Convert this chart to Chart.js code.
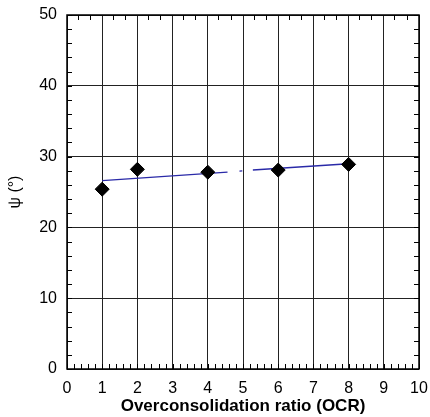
<!DOCTYPE html>
<html>
<head>
<meta charset="utf-8">
<script src="https://cdn.jsdelivr.net/npm/chart.js@4"></script>
<style>
  html, body { margin: 0; padding: 0; background: #fff; }
  #wrap { width: 430px; height: 417px; }
</style>
</head>
<body>
<div id="wrap"><canvas id="chart"></canvas></div>
<script>
// measured values
const ocr = [1, 2, 4, 6, 8];
const psi = [25.4, 28.2, 27.8, 28.1, 28.9];
// blue trend line, broken near OCR 5 as in the figure
const trendX = [1, 4.56, 4.9, 4.98, 5.28, 8];
const trendY = [26.6, 27.8, 27.95, 27.98, 28.1, 29.0];
const trendGap = [false, true, false, true, false, false]; // no line after this point
const xTicks = [0, 1, 2, 3, 4, 5, 6, 7, 8, 9, 10];
const yTicks = [0, 10, 20, 30, 40, 50];
const topMinorOffsets = [0.3, 0.65];

const trendData = trendX.map((x, i) => ({ x: x, y: trendY[i] }));
const FONT = "Liberation Sans, Arial, sans-serif";

const minorTicks = {
    id: "minorTicks",
    afterDraw(chart) {
        const ctx = chart.ctx;
        const xs = chart.scales.x, ys = chart.scales.y;
        const a = chart.chartArea;
        ctx.save();
        ctx.strokeStyle = "#000";
        ctx.lineWidth = 1;
        ctx.beginPath();
        // bottom: every 0.2
        for (let v = 0; v <= 10.001; v += 0.2) {
            const px = Math.round(xs.getPixelForValue(v)) + 0.5;
            ctx.moveTo(px, a.bottom);
            ctx.lineTo(px, a.bottom - 5);
        }
        // top
        for (let u = 0; u < 10; u++) {
            topMinorOffsets.forEach(o => {
                const px = Math.round(xs.getPixelForValue(u + o)) + 0.5;
                ctx.moveTo(px, a.top);
                ctx.lineTo(px, a.top + 5);
            });
        }
        // left / right: every 2
        for (let v = 0; v <= 50; v += 2) {
            const py = Math.round(ys.getPixelForValue(v)) + 0.5;
            ctx.moveTo(a.left, py);
            ctx.lineTo(a.left + 5, py);
            ctx.moveTo(a.right, py);
            ctx.lineTo(a.right - 5, py);
        }
        ctx.stroke();
        ctx.lineWidth = 1.5;
        ctx.strokeRect(a.left, a.top, a.right - a.left, a.bottom - a.top);
        ctx.restore();
    }
};

new Chart(document.getElementById("chart"), {
    type: "scatter",
    data: {
        datasets: [
            {
                label: "trend",
                type: "line",
                data: trendData,
                borderColor: "#2a2aa8",
                borderWidth: 1.4,
                pointRadius: 0,
                fill: false,
                segment: {
                    borderColor: ctx => trendGap[ctx.p0DataIndex] ? "rgba(0,0,0,0)" : "#2a2aa8"
                },
                order: 2
            },
            {
                label: "psi",
                data: ocr.map((x, i) => ({ x: x, y: psi[i] })),
                pointStyle: "rectRot",
                pointRadius: 7,
                backgroundColor: "#000",
                borderColor: "#000",
                order: 1
            }
        ]
    },
    options: {
        responsive: true,
        maintainAspectRatio: false,
        animation: false,
        layout: { padding: { top: 15, right: 11, left: 0, bottom: 0 } },
        plugins: { legend: { display: false }, tooltip: { enabled: false } },
        scales: {
            x: {
                type: "linear",
                min: 0, max: 10,
                afterBuildTicks: s => { s.ticks = xTicks.map(v => ({ value: v })); },
                afterFit: s => { s.height = 48; s.paddingLeft = 0; s.paddingRight = 0; },
                grid: { color: "#222", lineWidth: 1, drawTicks: false },
                border: { display: false },
                ticks: { color: "#000", padding: 10, font: { family: FONT, size: 16 } },
                title: {
                    display: true,
                    text: "Overconsolidation ratio (OCR)",
                    color: "#000",
                    padding: { top: 2, bottom: 0 },
                    font: { family: FONT, size: 17, weight: "bold" }
                }
            },
            y: {
                type: "linear",
                min: 0, max: 50,
                afterBuildTicks: s => { s.ticks = yTicks.map(v => ({ value: v })); },
                afterFit: s => { s.width = 67; s.paddingTop = 0; s.paddingBottom = 0; },
                grid: { color: "#222", lineWidth: 1, drawTicks: false },
                border: { display: false },
                ticks: { color: "#000", padding: 10, font: { family: FONT, size: 16 } },
                title: {
                    display: true,
                    text: "ψ (°)",
                    color: "#000",
                    padding: { top: 6, bottom: 0 },
                    font: { family: FONT, size: 16 }
                }
            }
        }
    },
    plugins: [minorTicks]
});
</script>
</body>
</html>
